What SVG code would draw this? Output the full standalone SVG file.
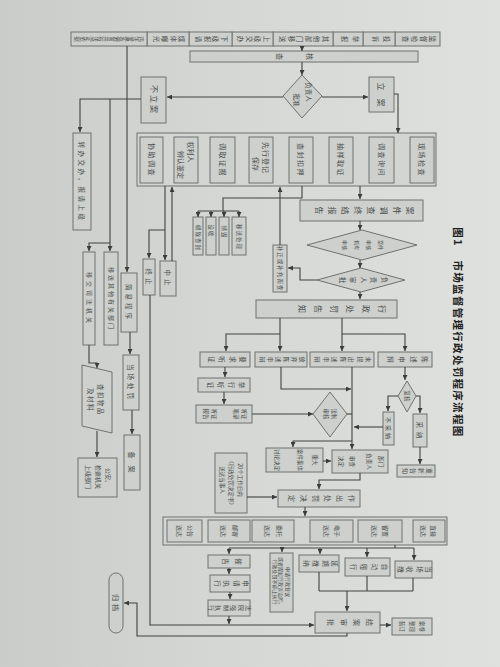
<svg xmlns="http://www.w3.org/2000/svg" width="500" height="667" viewBox="0 0 500 667">
<defs>
<linearGradient id="bg" x1="0" y1="0" x2="1" y2="0">
<stop offset="0" stop-color="#c9ccc9"/>
<stop offset="0.45" stop-color="#d4d7d4"/>
<stop offset="1" stop-color="#dfe1de"/>
</linearGradient>
<marker id="a" viewBox="0 0 6 6" refX="6" refY="3" markerWidth="5" markerHeight="5" markerUnits="userSpaceOnUse" orient="auto"><path d="M0,0L6,3L0,6z" fill="#3a3d3a"/></marker>
<style>
.b{fill:#cdd0cd;stroke:#6f726f;stroke-width:1}
.fr{fill:#d2d5d2;stroke:#6f726f;stroke-width:1}
.l{fill:none;stroke:#404340;stroke-width:1.1}
.la{fill:none;stroke:#404340;stroke-width:1.1;marker-end:url(#a)}
text{font-family:"Noto Sans CJK SC","Noto Sans",sans-serif;fill:#4a4d4a;font-size:6px;text-anchor:middle;dominant-baseline:central}
.v{writing-mode:vertical-rl}
.title{fill:#1e201e;font-size:10.5px;font-weight:bold;letter-spacing:1.3px}
</style>
</defs>
<rect width="500" height="667" fill="url(#bg)"/>

<g id="title">
<text class="title" transform="translate(458,237) rotate(90)">图1</text>
<text class="title" transform="translate(458,349) rotate(90)">市场监督管理行政处罚程序流程图</text>
</g>

<g id="sources">
<rect class="b" x="395" y="32" width="45" height="14"/><text class="v" style="font-size:6.5px;letter-spacing:2.5px" transform="translate(417.5,39) rotate(90)">监督检查</text>
<rect class="b" x="363" y="32" width="32" height="14"/><text class="v" style="font-size:6.5px;letter-spacing:4px" transform="translate(379,39) rotate(90)">投诉</text>
<rect class="b" x="333" y="32" width="30" height="14"/><text class="v" style="font-size:6.5px;letter-spacing:4px" transform="translate(348,39) rotate(90)">举报</text>
<rect class="b" x="273" y="32" width="60" height="14"/><text class="v" style="font-size:6.5px;letter-spacing:2px" transform="translate(303,39) rotate(90)">其他部门移送</text>
<rect class="b" x="232" y="32" width="41" height="14"/><text class="v" style="font-size:6.5px;letter-spacing:2px" transform="translate(252.5,39) rotate(90)">上级交办</text>
<rect class="b" x="189" y="32" width="43" height="14"/><text class="v" style="font-size:6.5px;letter-spacing:2px" transform="translate(210.5,39) rotate(90)">下级报请</text>
<rect class="b" x="147" y="32" width="42" height="14"/><text class="v" style="font-size:6.5px;letter-spacing:2px" transform="translate(168,39) rotate(90)">媒体曝光</text>
<rect class="b" x="71" y="32" width="76" height="14"/><text class="v" style="font-size:5.5px;letter-spacing:0.3px" transform="translate(109,39) rotate(90)">违法事实确凿并有法定依据</text>
</g>

<g id="hecha">
<rect class="b" x="190" y="51" width="228" height="11"/>
<text style="font-size:7px" transform="translate(310,56.5) rotate(90)">核</text>
<text style="font-size:7px" transform="translate(280,56.5) rotate(90)">查</text>
</g>

<g id="pizhun">
<polygon class="b" points="302,75 322,96 302,118 283,96"/>
<text style="font-size:6.5px" transform="translate(309,92) rotate(90)">负责人</text>
<text style="font-size:6.5px" transform="translate(297,100) rotate(90)">批准</text>
</g>

<g id="lian">
<rect class="b" x="369" y="77" width="25" height="35"/>
<text style="font-size:8px" transform="translate(381.5,94.5) rotate(90)">立　案</text>
</g>

<g id="bulian">
<rect class="b" x="141" y="77" width="25" height="46"/>
<text style="font-size:8px;letter-spacing:2px" transform="translate(154,100) rotate(90)">不立案</text>
</g>

<g id="zhuanban">
<rect class="b" x="73" y="133" width="18" height="97"/>
<text style="font-size:6.5px;letter-spacing:2.5px" transform="translate(82,182) rotate(90)">转办交办，报请上级</text>
</g>
<g id="sifa">
<rect class="b" x="83" y="252" width="12" height="93"/>
<text style="font-size:6px;letter-spacing:3px" transform="translate(89,299) rotate(90)">移交司法机关</text>
</g>
<g id="yisong">
<rect class="b" x="104" y="252" width="14" height="93"/>
<text style="font-size:6px;letter-spacing:2px" transform="translate(111,299) rotate(90)">移送其他有关部门</text>
</g>
<g id="jianyi">
<rect class="b" x="121" y="273" width="16" height="59"/>
<text style="font-size:6.5px;letter-spacing:3px" transform="translate(129,303) rotate(90)">简易程序</text>
</g>
<g id="dangchang">
<rect class="b" x="123" y="355" width="16" height="55"/>
<text style="font-size:6.5px;letter-spacing:3px" transform="translate(131,383) rotate(90)">当场处罚</text>
</g>
<g id="beian">
<rect class="b" x="124" y="435" width="16" height="55"/>
<text style="font-size:7px" transform="translate(132,462) rotate(90)">备　案</text>
</g>
<g id="chakou">
<polygon class="b" points="82,365 112,372 112,433 82,426"/>
<text style="font-size:6.5px;letter-spacing:1.5px" transform="translate(101,400) rotate(90)">查扣物品</text>
<text style="font-size:6.5px;letter-spacing:1.5px" transform="translate(91,400) rotate(90)">及材料</text>
</g>
<g id="gongan">
<rect class="b" x="78" y="458" width="39" height="39"/>
<text style="font-size:6px" transform="translate(108,477) rotate(90)">公安、</text>
<text style="font-size:6px" transform="translate(98,477) rotate(90)">检察机关</text>
<text style="font-size:6px" transform="translate(88,477) rotate(90)">上级部门</text>
</g>

<g id="diaocha">
<rect class="fr" x="137" y="133" width="299" height="53"/>
<rect class="b" x="410" y="137" width="24" height="46"/><text style="font-size:7px;letter-spacing:1.5px" transform="translate(422,160) rotate(90)">现场检查</text>
<rect class="b" x="369" y="137" width="25" height="46"/><text style="font-size:7px;letter-spacing:1.5px" transform="translate(381.5,160) rotate(90)">调查询问</text>
<rect class="b" x="329" y="137" width="24" height="46"/><text style="font-size:7px;letter-spacing:1.5px" transform="translate(341,160) rotate(90)">抽样取证</text>
<rect class="b" x="289" y="137" width="24" height="46"/><text style="font-size:7px;letter-spacing:1.5px" transform="translate(301,160) rotate(90)">查封扣押</text>
<rect class="b" x="249" y="137" width="24" height="46"/><text style="font-size:7px;letter-spacing:1px" transform="translate(266,158) rotate(90)">先行登记</text><text style="font-size:7px" transform="translate(256,164) rotate(90)">保存</text>
<rect class="b" x="210" y="137" width="25" height="46"/><text style="font-size:7px;letter-spacing:1.5px" transform="translate(222.5,160) rotate(90)">调取证据</text>
<rect class="b" x="174" y="137" width="24" height="46"/><text style="font-size:7px" transform="translate(191,152) rotate(90)">权利人</text><text style="font-size:7px" transform="translate(181,165) rotate(90)">辨认鉴定</text>
<rect class="b" x="140" y="137" width="23" height="46"/><text style="font-size:7px;letter-spacing:1.5px" transform="translate(151.5,160) rotate(90)">协助调查</text>
</g>

<g id="chuli">
<rect class="b" x="193" y="217" width="10" height="38"/><text style="font-size:5.5px;letter-spacing:1px" transform="translate(198,238) rotate(90)">解除查封</text>
<rect class="b" x="206" y="217" width="10" height="38"/><text style="font-size:5.5px;letter-spacing:1px" transform="translate(211,231) rotate(90)">没收</text>
<rect class="b" x="219" y="217" width="10" height="38"/><text style="font-size:5.5px;letter-spacing:1px" transform="translate(224,232) rotate(90)">销毁</text>
<rect class="b" x="232" y="217" width="14" height="38"/><text style="font-size:5.5px;letter-spacing:1px" transform="translate(239,237) rotate(90)">移送处理</text>
</g>

<g id="zhongzhi1">
<rect class="b" x="143" y="259" width="12" height="36"/><text style="font-size:6.5px;letter-spacing:3px" transform="translate(149,278) rotate(90)">终止</text>
</g>
<g id="zhongzhi2">
<rect class="b" x="160" y="261" width="16" height="35"/><text style="font-size:6.5px;letter-spacing:3px" transform="translate(168,279) rotate(90)">中止</text>
</g>

<g id="baogao">
<rect class="b" x="300" y="200" width="123" height="21"/>
<text class="v" style="font-size:8px;letter-spacing:5px" transform="translate(362,210.5) rotate(90)">案件调查终结报告</text>
</g>
<g id="shenhe">
<polygon class="b" points="362,230 417,245 362,260 307,245"/>
<text style="font-size:5px" transform="translate(381,245) rotate(90)">案件</text>
<text style="font-size:5px" transform="translate(369,245) rotate(90)">审核</text>
<text style="font-size:5px" transform="translate(357,245) rotate(90)">机构</text>
<text style="font-size:5px" transform="translate(345,245) rotate(90)">审核</text>
</g>
<g id="shenpi">
<polygon class="b" points="361,268 405,280 361,292 317,280"/>
<text class="v" style="font-size:6.5px;letter-spacing:4px" transform="translate(361,280) rotate(90)">负责人审批</text>
</g>
<g id="buzheng">
<rect class="b" x="273" y="245" width="14" height="47"/>
<text style="font-size:5.5px;letter-spacing:1px" transform="translate(280,268.5) rotate(90)">补正或补充调查</text>
</g>
<g id="gaozhi">
<rect class="b" x="256" y="300" width="141" height="18"/>
<text class="v" style="font-size:8px;letter-spacing:8px" transform="translate(338,309) rotate(90)">行政处罚告知</text>
</g>

<g id="yaoqiu">
<rect class="b" x="200" y="352" width="50" height="15"/><text class="v" style="font-size:6.5px;letter-spacing:4px" transform="translate(225,359.5) rotate(90)">要求听证</text>
</g>
<g id="fangqi">
<rect class="b" x="255" y="352" width="52" height="15"/><text class="v" style="font-size:6px;letter-spacing:2px" transform="translate(281,359.5) rotate(90)">放弃陈述申辩</text>
</g>
<g id="weitichu">
<rect class="b" x="310" y="352" width="64" height="15"/><text class="v" style="font-size:6px;letter-spacing:2.5px" transform="translate(342,359.5) rotate(90)">未提出陈述申辩</text>
</g>
<g id="chenshu">
<rect class="b" x="378" y="352" width="54" height="15"/><text class="v" style="font-size:6.5px;letter-spacing:5px" transform="translate(405,359.5) rotate(90)">陈述申辩</text>
</g>
<g id="juxing">
<rect class="b" x="198" y="378" width="52" height="14"/><text class="v" style="font-size:6.5px;letter-spacing:4px" transform="translate(224,385) rotate(90)">举行听证</text>
</g>
<g id="bilu">
<rect class="b" x="196" y="405" width="56" height="18"/>
<text style="font-size:5.5px" transform="translate(244,414) rotate(90)">听证</text>
<text style="font-size:5.5px" transform="translate(236,414) rotate(90)">笔录</text>
<text style="font-size:5.5px" transform="translate(214,414) rotate(90)">听证</text>
<text style="font-size:5.5px" transform="translate(206,414) rotate(90)">报告</text>
</g>
<g id="fazhi">
<polygon class="b" points="330,392 347,414 330,437 313,414"/>
<text style="font-size:5.5px" transform="translate(334,414) rotate(90)">法制</text>
<text style="font-size:5.5px" transform="translate(326,414) rotate(90)">审核</text>
</g>
<g id="fuhe">
<polygon class="b" points="407,381 416,396 407,412 398,396"/>
<text style="font-size:5.5px" transform="translate(407,396) rotate(90)">复核</text>
</g>
<g id="bucaina">
<rect class="b" x="383" y="412" width="11" height="33"/><text style="font-size:6px;letter-spacing:2px" transform="translate(388.5,429) rotate(90)">不采纳</text>
</g>
<g id="caina">
<rect class="b" x="413" y="414" width="14" height="33"/><text style="font-size:6.5px;letter-spacing:4px" transform="translate(420,432) rotate(90)">采纳</text>
</g>
<g id="chongxin">
<rect class="b" x="397" y="465" width="38" height="12"/><text class="v" style="font-size:6px;letter-spacing:2px" transform="translate(416,471) rotate(90)">重新告知</text>
</g>
<g id="zhongda">
<rect class="b" x="266" y="448" width="57" height="24"/>
<text style="font-size:5.5px" transform="translate(315,460) rotate(90)">重大</text>
<text style="font-size:5.5px" transform="translate(300,460) rotate(90)">案件集体</text>
<text style="font-size:5.5px" transform="translate(277,460) rotate(90)">讨论决定</text>
</g>
<g id="bumen">
<rect class="b" x="332" y="450" width="56" height="23"/>
<text style="font-size:5.5px" transform="translate(381,461.5) rotate(90)">部门</text>
<text style="font-size:5.5px" transform="translate(369,461.5) rotate(90)">负责人</text>
<text style="font-size:5.5px" transform="translate(352,461.5) rotate(90)">审查</text>
<text style="font-size:5.5px" transform="translate(341,461.5) rotate(90)">决定</text>
</g>
<g id="jueding">
<rect class="b" x="278" y="490" width="82" height="17"/>
<text class="v" style="font-size:7px;letter-spacing:5px" transform="translate(319,498.5) rotate(90)">作出处罚决定</text>
</g>
<g id="note">
<rect class="b" x="215" y="453" width="32" height="60"/>
<text style="font-size:5.5px" transform="translate(240,480) rotate(90)">20个工作日内</text>
<text style="font-size:5.5px" transform="translate(231,483) rotate(90)">《行政处罚决定书》</text>
<text style="font-size:5.5px" transform="translate(222,480) rotate(90)">送达当事人</text>
</g>

<g id="songda">
<rect class="fr" x="163" y="517" width="284" height="28"/>
<rect class="b" x="413" y="520" width="32" height="22"/><text transform="translate(433,531) rotate(90)">直接</text><text transform="translate(423,531) rotate(90)">送达</text>
<rect class="b" x="358" y="520" width="44" height="22"/><text transform="translate(385,531) rotate(90)">留置</text><text transform="translate(374,531) rotate(90)">送达</text>
<rect class="b" x="310" y="520" width="43" height="22"/><text transform="translate(337,531) rotate(90)">电子</text><text transform="translate(326,531) rotate(90)">送达</text>
<rect class="b" x="252" y="520" width="42" height="22"/><text transform="translate(279,531) rotate(90)">委托</text><text transform="translate(267,531) rotate(90)">送达</text>
<rect class="b" x="208" y="520" width="42" height="22"/><text transform="translate(235,531) rotate(90)">邮寄</text><text transform="translate(223,531) rotate(90)">送达</text>
<rect class="b" x="167" y="520" width="35" height="22"/><text transform="translate(190,531) rotate(90)">公告</text><text transform="translate(179,531) rotate(90)">送达</text>
</g>

<g id="cuigao">
<rect class="b" x="208" y="555" width="42" height="13"/><text class="v" style="font-size:6.5px;letter-spacing:6px" transform="translate(229,561.5) rotate(90)">催告</text>
</g>
<g id="shenqing">
<rect class="b" x="210" y="575" width="40" height="17"/><text class="v" style="font-size:6.5px;letter-spacing:3px" transform="translate(230,583.5) rotate(90)">申请执行</text>
</g>
<g id="fayuan">
<rect class="b" x="208" y="600" width="42" height="16"/><text class="v" style="font-size:6px;letter-spacing:1.5px" transform="translate(229,608) rotate(90)">法院强制执行</text>
</g>
<g id="fuyi">
<rect class="b" x="270" y="553" width="23" height="59"/>
<text style="font-size:5px" transform="translate(288,582) rotate(90)">申请行政复议</text>
<text style="font-size:5px" transform="translate(281.5,582) rotate(90)">或者提起行政诉讼的，</text>
<text style="font-size:5px" transform="translate(275,582) rotate(90)">行政处罚不停止执行</text>
</g>
<g id="yanqi">
<rect class="b" x="299" y="555" width="40" height="17"/><text class="v" style="font-size:6.5px;letter-spacing:3px" transform="translate(319,563.5) rotate(90)">延期缴纳</text>
</g>
<g id="zidong">
<rect class="b" x="345" y="558" width="45" height="18"/><text class="v" style="font-size:6.5px;letter-spacing:4px" transform="translate(367,567) rotate(90)">自动履行</text>
</g>
<g id="shoujiao">
<rect class="b" x="395" y="561" width="37" height="17"/><text class="v" style="font-size:6.5px;letter-spacing:3px" transform="translate(413,569.5) rotate(90)">当场收缴</text>
</g>
<g id="jiean">
<rect class="b" x="315" y="612" width="65" height="21"/><text class="v" style="font-size:7px;letter-spacing:6px" transform="translate(347,622.5) rotate(90)">结案审批</text>
</g>
<g id="anjuan">
<rect class="b" x="392" y="618" width="40" height="17"/>
<text style="font-size:5.5px" transform="translate(422,626.5) rotate(90)">案卷</text>
<text style="font-size:5.5px" transform="translate(412,626.5) rotate(90)">整理</text>
<text style="font-size:5.5px" transform="translate(402,626.5) rotate(90)">装订</text>
</g>
<g id="guidang">
<rect class="b" x="109" y="573" width="14" height="60" rx="7"/><text style="font-size:7px;letter-spacing:3px" transform="translate(116,604) rotate(90)">归档</text>
</g>

<g id="connectors">
<path class="la" d="M302 46V51"/>
<path class="la" d="M302 62V75"/>
<path class="la" d="M322 97H368"/>
<path class="la" d="M394 94H398V133"/>
<path class="la" d="M283 97H167"/>
<path class="la" d="M141 99H80V132"/>
<path class="la" d="M110 99V251"/>
<path class="la" d="M110 243H89V251"/>
<path class="la" d="M127 46V272"/>
<path class="la" d="M130 332V354"/>
<path class="la" d="M132 410V434"/>
<path class="la" d="M89 345V363H97V368"/>
<path class="la" d="M97 431V457"/>
<path class="la" d="M360 186V199"/>
<path class="l" d="M302 186V198H223V211M198 211H239"/>
<path class="la" d="M198 211V217"/>
<path class="la" d="M211 211V217"/>
<path class="la" d="M224 211V217"/>
<path class="la" d="M239 211V217"/>
<path class="la" d="M280 245V187"/>
<path class="la" d="M165 186V260"/>
<path class="la" d="M165 230H149V258"/>
<path class="la" d="M172 261V187"/>
<path class="la" d="M360 221V230"/>
<path class="la" d="M360 260V268"/>
<path class="la" d="M317 280H300V268H288"/>
<path class="la" d="M360 292V299"/>
<path class="la" d="M280 318V351"/>
<path class="la" d="M280 334H226V351"/>
<path class="la" d="M342 318V351"/>
<path class="la" d="M342 334H405V351"/>
<path class="la" d="M225 367V377"/>
<path class="la" d="M224 392V404"/>
<path class="la" d="M252 414H313"/>
<path class="l" d="M347 414H352"/>
<path class="la" d="M281 367V389H351"/>
<path class="la" d="M352 367V449"/>
<path class="la" d="M352 441H293V447"/>
<path class="la" d="M405 367V380"/>
<path class="la" d="M398 396H388V411"/>
<path class="la" d="M416 396H420V413"/>
<path class="la" d="M383 427H354"/>
<path class="la" d="M420 447V464"/>
<path class="la" d="M323 461H331"/>
<path class="la" d="M360 473V480H319V489"/>
<path class="la" d="M247 497H277"/>
<path class="la" d="M305 507V516"/>
<path class="l" d="M395 545V548M229 548H414"/>
<path class="la" d="M229 548V554"/>
<path class="la" d="M282 548V552"/>
<path class="la" d="M320 548V554"/>
<path class="la" d="M367 548V557"/>
<path class="la" d="M414 548V560"/>
<path class="la" d="M229 568V574"/>
<path class="la" d="M230 592V599"/>
<path class="la" d="M229 616V624"/>
<path class="l" d="M319 572V591M367 576V591M413 578V591M319 591H413"/>
<path class="la" d="M347 591V611"/>
<path class="la" d="M380 625H391"/>
<path class="la" d="M150 295V625H314"/>
<path class="la" d="M347 633V636H137V603H124"/>
</g>
</svg>
